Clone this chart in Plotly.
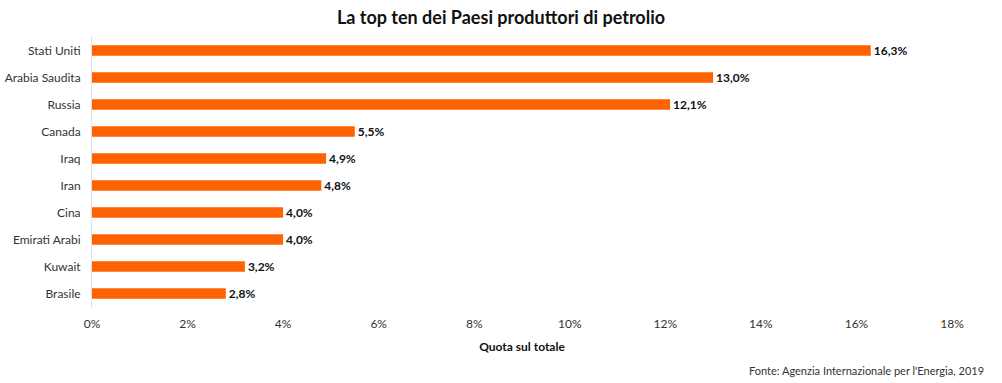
import plotly.graph_objects as go

paesi = ["Stati Uniti", "Arabia Saudita", "Russia", "Canada", "Iraq", "Iran",
         "Cina", "Emirati Arabi", "Kuwait", "Brasile"]
quote = [16.3, 13.0, 12.1, 5.5, 4.9, 4.8, 4.0, 4.0, 3.2, 2.8]
etichette = [f"{v:.1f}%".replace(".", ",") for v in quote]
tick_vals = [0, 2, 4, 6, 8, 10, 12, 14, 16, 18]
tick_text = [f"{v}%" for v in tick_vals]

FONT = "Lato, Open Sans, sans-serif"

fig = go.Figure(go.Bar(
    y=paesi, x=quote, orientation="h",
    marker=dict(color="#FF6200", line=dict(width=0)),
    width=0.38,
    text=etichette, textposition="outside", constraintext="none",
    textfont=dict(family=FONT, size=12, color="#111111", weight="bold"),
    cliponaxis=False,
))

fig.update_layout(
    width=1002, height=383,
    margin=dict(l=92, r=50, t=37, b=76, autoexpand=False),
    paper_bgcolor="white", plot_bgcolor="white",
    font=dict(family=FONT, size=12, color="#333333"),
    title=dict(text="<b>La top ten dei Paesi produttori di petrolio</b>",
               x=0.5, xanchor="center", y=0.955, yanchor="middle",
               font=dict(family=FONT, size=18, color="#111111")),
    showlegend=False,
)
fig.update_xaxes(range=[0, 18], tickvals=tick_vals, ticktext=tick_text,
                 showgrid=False, zeroline=False, showline=False,
                 ticks="", ticklabelstandoff=8, automargin=False,
                 title=dict(text="<b>Quota sul totale</b>", standoff=12,
                            font=dict(family=FONT, size=12, color="#111111")))
fig.update_yaxes(autorange="reversed", showgrid=False, zeroline=False,
                 showline=True, linecolor="#dddddd", linewidth=1,
                 ticks="", ticklabelstandoff=8, automargin=False)

fig.add_annotation(text="Fonte: Agenzia Internazionale per l'Energia, 2019",
                   xref="paper", yref="paper", x=1.04, y=-0.235,
                   xanchor="right", yanchor="middle", showarrow=False,
                   font=dict(family=FONT, size=11, color="#333333"))

fig.write_html("out.html", config={"displayModeBar": False},
               post_script="document.body.style.margin='0';document.body.style.overflow='hidden';")
